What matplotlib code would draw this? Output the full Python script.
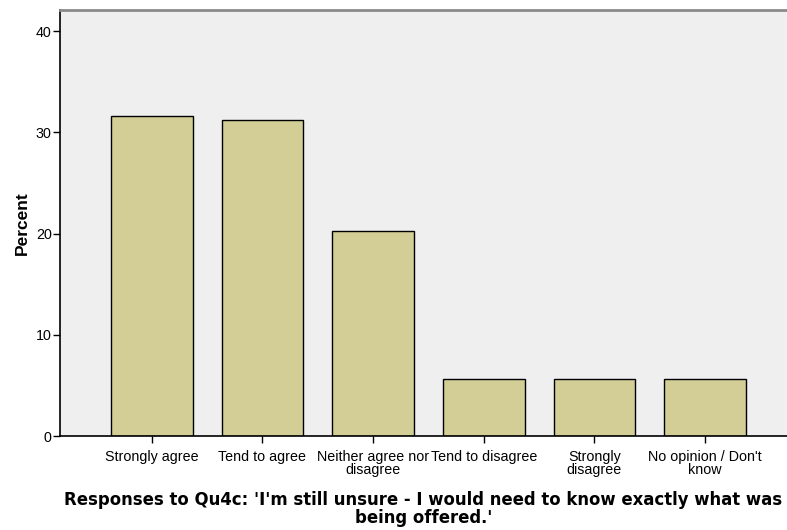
import matplotlib
matplotlib.use('Agg')
import matplotlib.pyplot as plt

# response categories and percentages
categories = ['Strongly agree', 'Tend to agree', 'Neither agree nor\ndisagree',
              'Tend to disagree', 'Strongly\ndisagree', 'No opinion / Don\'t\nknow']
percent = [31.6, 31.2, 20.3, 5.6, 5.6, 5.6]
yticks = [0, 10, 20, 30, 40]

plt.rcParams['font.family'] = ['Liberation Sans', 'DejaVu Sans']

fig = plt.figure(figsize=(7.87, 5.30), dpi=100)
ax = fig.add_axes([60 / 787, 94 / 530, 727 / 787, 426 / 530])
ax.set_facecolor('#EFEFEF')

x = range(len(categories))
ax.bar(x, percent, width=0.74, color='#D2CE96', edgecolor='black', linewidth=1.0)

ax.set_xlim(-0.83, 5.74)
ax.set_ylim(0, 42.1)
ax.set_yticks(yticks)
ax.set_xticks(list(x))
ax.set_xticklabels(categories, fontsize=10.3, linespacing=0.9)
ax.tick_params(axis='both', direction='out', length=5, width=1, color='black', labelsize=10.3)
ax.tick_params(axis='y', pad=1)
ax.tick_params(axis='x', pad=5)

for s in ['left', 'bottom']:
    ax.spines[s].set_color('black')
    ax.spines[s].set_linewidth(1.2)
ax.spines['top'].set_color('#8A8A8A')
ax.spines['top'].set_linewidth(2)
ax.spines['right'].set_visible(False)

ax.set_ylabel('Percent', fontsize=12.5, fontweight='bold', labelpad=4)
ax.set_xlabel("Responses to Qu4c: 'I'm still unsure - I would need to know exactly what was\nbeing offered.'",
              fontsize=11.9, fontweight='bold', family='DejaVu Sans', linespacing=1.0, labelpad=10)

fig.savefig('out.png', dpi=100)
